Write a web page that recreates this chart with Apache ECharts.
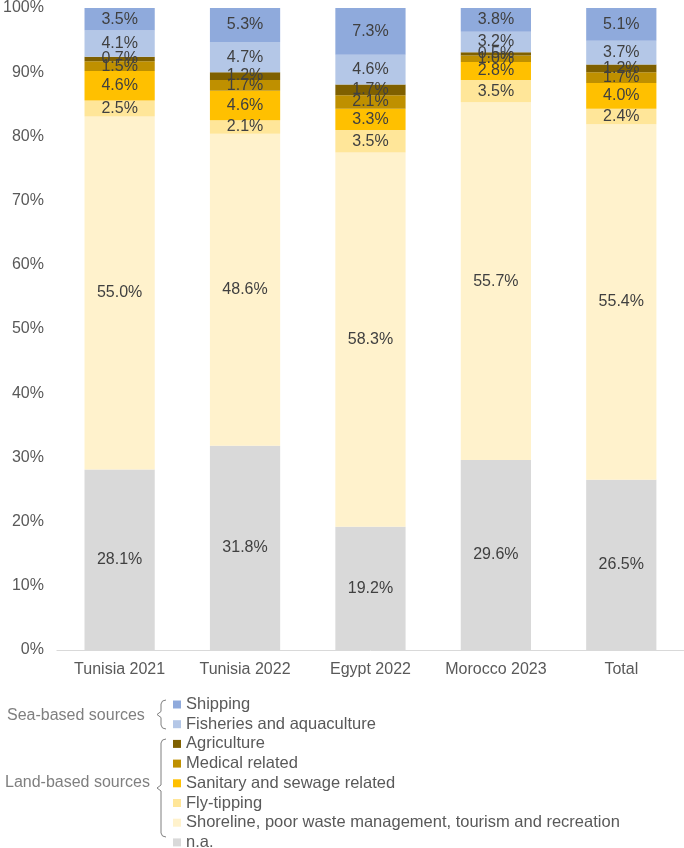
<!DOCTYPE html>
<html>
<head>
<meta charset="utf-8">
<script src="https://cdn.jsdelivr.net/npm/echarts@6/dist/echarts.min.js"></script>
<style>
  html, body { margin: 0; padding: 0; background: #fff; }
  #chart { width: 684px; height: 848px; }
</style>
</head>
<body>
<div id="chart"></div>
<script>
// 类别
const categories = ['Tunisia 2021', 'Tunisia 2022', 'Egypt 2022', 'Morocco 2023', 'Total']

// 各来源占比 (%)
const na = [28.1, 31.8, 19.2, 29.6, 26.5]
const shoreline = [55.0, 48.6, 58.3, 55.7, 55.4]
const flyTipping = [2.5, 2.1, 3.5, 3.5, 2.4]
const sanitary = [4.6, 4.6, 3.3, 2.8, 4.0]
const medical = [1.5, 1.7, 2.1, 1.0, 1.7]
const agriculture = [0.7, 1.2, 1.7, 0.5, 1.2]
const fisheries = [4.1, 4.7, 4.6, 3.2, 3.7]
const shipping = [3.5, 5.3, 7.3, 3.8, 5.1]

const yTicks = [0, 10, 20, 30, 40, 50, 60, 70, 80, 90, 100]

const font = 'Liberation Sans, Arial, sans-serif'
const textGray = '#595959'

// 自下而上堆叠
const stackList = [
    { name: 'n.a.', data: na, color: '#d9d9d9' },
    { name: 'Shoreline, poor waste management, tourism and recreation', data: shoreline, color: '#fff2cc' },
    { name: 'Fly-tipping', data: flyTipping, color: '#ffe699' },
    { name: 'Sanitary and sewage related', data: sanitary, color: '#ffc000' },
    { name: 'Medical related', data: medical, color: '#bf9000' },
    { name: 'Agriculture', data: agriculture, color: '#7f6000' },
    { name: 'Fisheries and aquaculture', data: fisheries, color: '#b4c7e7' },
    { name: 'Shipping', data: shipping, color: '#8faadc' }
]

const chart = echarts.init(document.getElementById('chart'))

// 大括号
function brace(x, y1, y2) {
    const mid = (y1 + y2) / 2
    return [
        [x + 5, y1], [x + 1.5, y1 + 1], [x, y1 + 4],
        [x, mid - 3], [x - 4, mid], [x, mid + 3],
        [x, y2 - 4], [x + 1.5, y2 - 1], [x + 5, y2]
    ]
}

const option = {
    animation: false,
    grid: {
        left: 55,
        right: 0,
        top: 7,
        bottom: 198
    },
    legend: {
        orient: 'vertical',
        left: 173,
        top: 696,
        height: 200,
        padding: 0,
        itemWidth: 8,
        itemHeight: 8,
        itemGap: 2.7,
        icon: 'rect',
        data: stackList.slice().reverse().map(s => s.name),
        textStyle: {
            color: textGray,
            fontSize: 16.5,
            lineHeight: 16,
            fontFamily: font
        }
    },
    xAxis: {
        type: 'category',
        data: categories,
        axisTick: { show: false },
        axisLine: { lineStyle: { color: '#d9d9d9' } },
        axisLabel: {
            color: textGray,
            fontSize: 16,
            fontFamily: font,
            interval: 0,
            margin: 12
        }
    },
    yAxis: {
        type: 'value',
        min: yTicks[0],
        max: yTicks[yTicks.length - 1],
        interval: 10,
        splitLine: { show: false },
        axisLine: { show: false },
        axisTick: { show: false },
        axisLabel: {
            color: textGray,
            fontSize: 16,
            fontFamily: font,
            margin: 13,
            formatter: '{value}%'
        }
    },
    series: stackList.map(s => ({
        name: s.name,
        type: 'bar',
        stack: 'total',
        barWidth: '56%',
        data: s.data,
        itemStyle: { color: s.color },
        label: {
            show: true,
            position: 'inside',
            color: '#404040',
            fontSize: 16,
            fontFamily: font,
            formatter: p => p.value.toFixed(1) + '%'
        }
    })),
    graphic: [
        {
            type: 'polyline',
            shape: { points: brace(161, 700, 729) },
            style: { fill: null, stroke: '#7f7f7f', lineWidth: 1 }
        },
        {
            type: 'polyline',
            shape: { points: brace(161, 739, 837) },
            style: { fill: null, stroke: '#7f7f7f', lineWidth: 1 }
        },
        {
            type: 'text',
            left: 7,
            top: 708,
            style: { text: 'Sea-based sources', fill: '#7f7f7f', fontSize: 16, fontFamily: font }
        },
        {
            type: 'text',
            left: 5,
            top: 775,
            style: { text: 'Land-based sources', fill: '#7f7f7f', fontSize: 16, fontFamily: font }
        }
    ]
}

chart.setOption(option)
window.addEventListener('resize', () => {
    chart.resize()
})
</script>
</body>
</html>
